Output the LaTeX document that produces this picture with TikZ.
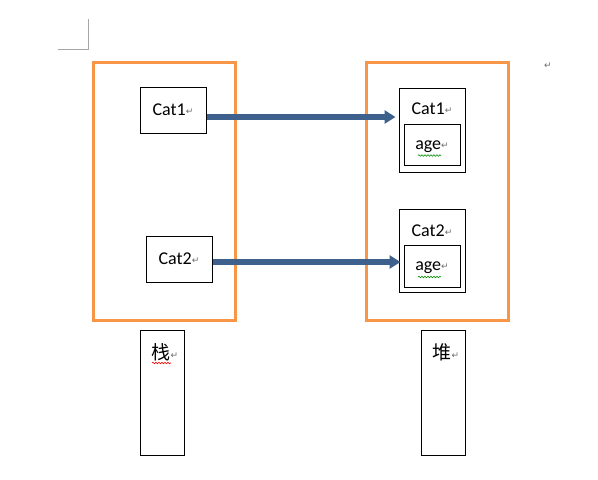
\documentclass[tikz,border=0pt]{standalone}
\usepackage{fontspec}
\setmainfont{Carlito}
\newfontfamily\cjk{Noto Sans CJK SC}
\newfontfamily\symfont{DejaVu Sans}
\usepackage{xcolor}
\usetikzlibrary{positioning,arrows.meta,decorations.pathmorphing}
\definecolor{frameorange}{RGB}{247,150,70}
\definecolor{arrowblue}{RGB}{62,96,140}
\newcommand{\ret}{{\symfont\fontsize{9}{9}\selectfont\color{gray!85!black}\raisebox{1pt}{↵}}}

\begin{document}
\begin{tikzpicture}[
  x=1pt, y=-1pt,
  box/.style={draw, line width=1pt, inner sep=0pt},
  frame/.style={draw=frameorange, line width=3pt, inner sep=0pt},
  txt/.style={font=\fontsize{18}{20}\selectfont, inner sep=0pt},
  hz/.style={font=\cjk\fontsize{19}{21}\selectfont, inner sep=0pt},
  arrow/.style={-{Triangle[length=11pt,width=13pt]}, line width=5.5pt, arrowblue},
  squig/.style={decorate, decoration={snake, amplitude=0.8pt, segment length=3pt}, line width=0.6pt}
]
\useasboundingbox (0,0) rectangle (598,480);

% page corner mark
\coordinate (ct) at (88,19);
\coordinate (cc) at (88,49);
\coordinate (cl) at (58,49);
\draw[gray!70, line width=1pt] (ct) -- (cc) -- (cl);
\node[inner sep=0pt] (pm) at (548,66) {\ret};

% frames
\node[frame, minimum width=142, minimum height=258] (stack) at (164,191) {};
\node[frame, minimum width=142, minimum height=258] (heap) at (437,191) {};

% stack side
\node[box, minimum width=66, minimum height=46] (lc1) at (173,110) {};
\node[txt] at (lc1) {Cat1\ret};
\node[box, minimum width=66, minimum height=46] (lc2) at (179,259) {};
\node[txt] at (lc2) {Cat2\ret};

% heap side
\node[box, minimum width=66, minimum height=84] (rc1) at (432,130) {};
\node[txt] at (432,109) {Cat1\ret};
\node[box, minimum width=56, minimum height=41] (ra1) at (432,144.5) {};
\node[txt] (age1) at (432,146.5) {age\ret};
\node[box, minimum width=66, minimum height=83] (rc2) at (432,250.5) {};
\node[txt] at (432,231) {Cat2\ret};
\node[box, minimum width=56, minimum height=42] (ra2) at (432,266) {};
\node[txt] (age2) at (432,268) {age\ret};
\draw[squig, green!55!black] ([xshift=-14pt,yshift=-9pt]age1.center) -- ([xshift=9pt,yshift=-9pt]age1.center);
\draw[squig, green!55!black] ([xshift=-14pt,yshift=-9pt]age2.center) -- ([xshift=9pt,yshift=-9pt]age2.center);

% references
\draw[arrow] ([yshift=-7pt]lc1.east) -- ([yshift=-7pt,xshift=-3pt]lc1.east -| rc1.west);
\draw[arrow] ([yshift=-3pt]lc2.east) -- ([yshift=-3pt,xshift=2pt]lc2.east -| rc2.west);

% captions
\node[box, minimum width=44, minimum height=125] (zb) at (162,392.5) {};
\node[hz] (zt) at (165,352) {栈\ret};
\draw[squig, red] ([xshift=-13pt,yshift=-11pt]zt.center) -- ([xshift=6pt,yshift=-11pt]zt.center);
\node[box, minimum width=44, minimum height=125] (db) at (443,392.5) {};
\node[hz] at (446,352) {堆\ret};
\end{tikzpicture}
\end{document}
